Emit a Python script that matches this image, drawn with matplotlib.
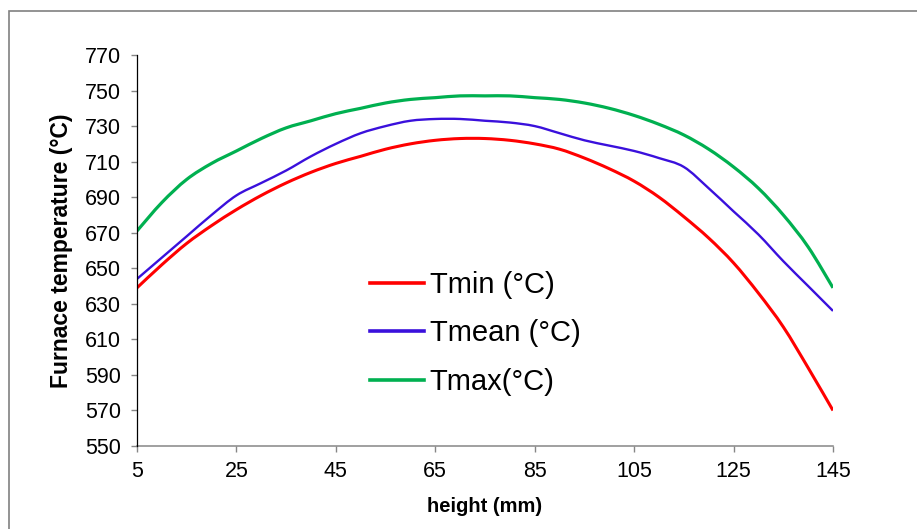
import numpy as np
import matplotlib
matplotlib.use('Agg')
import matplotlib.pyplot as plt
from matplotlib.patches import Rectangle, PathPatch
from matplotlib.path import Path
from matplotlib.lines import Line2D

plt.rcParams['font.family'] = ['Liberation Sans', 'DejaVu Sans']

# heights (mm) and furnace temperatures
height = [5, 10, 15, 20, 25, 30, 35, 40, 45, 50, 55, 60, 65, 70, 75,
          80, 85, 90, 95, 100, 105, 110, 115, 120, 125, 130, 135, 140, 145]
t_min = [639, 652, 664, 674, 683, 691, 698, 704, 709, 713, 717, 720, 722, 723, 723,
         722, 720, 717, 712, 706, 699, 690, 679, 667, 653, 636, 617, 594, 570]
t_mean = [644, 656, 668, 680, 691, 698, 705, 713, 720, 726, 730, 733, 734, 734, 733,
          732, 730, 726, 722, 719, 716, 712, 707, 695, 682, 669, 654, 640, 626]
t_max = [671, 687, 700, 709, 716, 723, 729, 733, 737, 740, 743, 745, 746, 747, 747,
         747, 746, 745, 743, 740, 736, 731, 725, 717, 707, 695, 680, 662, 639]

labels = ['Tmin (°C)', 'Tmean (°C)', 'Tmax(°C)']
colors = ['#FF0000', '#3A10DC', '#00B050']
widths = [2.2, 1.7, 2.3]
x_ticks = np.arange(5, 146, 20)
y_ticks = np.arange(550, 771, 20)


def smooth_line(ax, x, y, **kw):
    # Excel-style smoothed line: cubic Bezier through each data point
    pts = np.column_stack([x, y]).astype(float)
    n = len(pts)
    verts = [pts[0]]
    codes = [Path.MOVETO]
    for i in range(n - 1):
        p0 = pts[max(i - 1, 0)]
        p1 = pts[i]
        p2 = pts[i + 1]
        p3 = pts[min(i + 2, n - 1)]
        verts += [p1 + (p2 - p0) / 6, p2 - (p3 - p1) / 6, p2]
        codes += [Path.CURVE4] * 3
    patch = PathPatch(Path(verts, codes), fill=False, capstyle='butt',
                      joinstyle='round', **kw)
    ax.add_patch(patch)


fig = plt.figure(figsize=(9.17, 5.29), dpi=100)
ax = fig.add_axes([137 / 917, 83 / 529, 696 / 917, 391 / 529])

for series, c, w in zip([t_min, t_mean, t_max], colors, widths):
    smooth_line(ax, height, series, edgecolor=c, linewidth=w)

ax.set_xlim(5, 145)
ax.set_ylim(550, 770)
ax.set_xticks(x_ticks)
ax.set_yticks(y_ticks)

for side in ['top', 'right']:
    ax.spines[side].set_visible(False)
ax.spines['left'].set_color('#000000')
ax.spines['left'].set_linewidth(0.9)
ax.spines['bottom'].set_color('#868686')
ax.spines['bottom'].set_linewidth(1.1)
ax.spines['left'].set_zorder(5)

ax.tick_params(axis='both', direction='out', length=4.3, width=1.0,
               color='#868686', labelsize=15.5, labelcolor='black')
ax.tick_params(axis='y', pad=7)
ax.tick_params(axis='x', pad=6.5)

ax.set_xlabel('height (mm)', fontsize=14.5, fontweight='bold', labelpad=11)
ax.set_ylabel('Furnace temperature (°C)', fontsize=16.5, fontweight='bold', labelpad=9)

handles = [Line2D([], [], color=c, lw=2.6) for c in colors]
leg = ax.legend(handles, labels, loc='upper left',
                bbox_to_anchor=(370 / 917, 1 - 271 / 529),
                bbox_transform=fig.transFigure, frameon=False, fontsize=21,
                handlelength=1.85, handletextpad=0.2, labelspacing=0.7,
                borderpad=0, borderaxespad=0)

# outer chart-area frame
fig.add_artist(Rectangle((8.5 / 917, -0.1), 1.2, 0.1 + 1 - 10.5 / 529,
                         transform=fig.transFigure, fill=False,
                         edgecolor='#808080', linewidth=1.2))

fig.savefig('out.png', dpi=100)
